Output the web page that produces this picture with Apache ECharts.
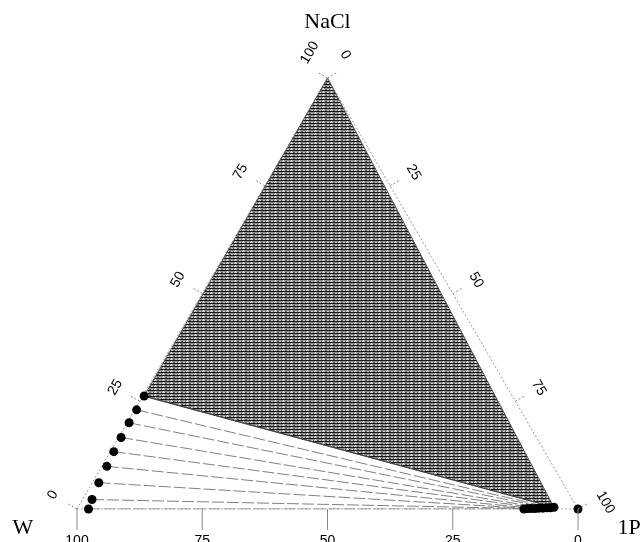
<!DOCTYPE html>
<html>
<head>
<meta charset="utf-8">
<script src="https://cdn.jsdelivr.net/npm/echarts@6/dist/echarts.min.js"></script>
<style>
  html, body { margin: 0; padding: 0; background: #fff; }
  #chart { width: 643px; height: 542px; }
</style>
</head>
<body>
<div id="chart"></div>
<script>
// tick values on the three sides (mass %)
const tickValues = [0, 25, 50, 75, 100];

// W-rich phase (mass % NaCl, mass % 1P)
const waterNaCl = [26.2, 23.0, 20.0, 16.6, 13.3, 9.9, 6.1, 2.2, 0.0];
const water1P = [0.3, 0.4, 0.4, 0.5, 0.7, 1.0, 1.3, 1.9, 2.3];
// 1P-rich phase (mass % NaCl, mass % 1P)
const organicNaCl = [0.4, 0.3, 0.3, 0.2, 0.2, 0.1, 0.1, 0.1, 0.0];
const organic1P = [95.0, 94.3, 93.6, 92.9, 92.1, 91.4, 90.6, 89.9, 89.2];
// pure 1P corner point
const pureNaCl = [0];
const pure1P = [100];

// ternary -> cartesian (x from W to 1P, y up to NaCl)
function tern(nacl, p) {
  return [(p + nacl / 2) / 100, nacl / 100];
}

const chart = echarts.init(document.getElementById('chart'));

// hatching for the three phase region
const pat = document.createElement('canvas');
pat.width = 8;
pat.height = 3;
const pctx = pat.getContext('2d');
pctx.fillStyle = '#c8c8c8';
pctx.fillRect(0, 0, 8, 3);
pctx.fillStyle = '#161616';
pctx.fillRect(0, 0, 8, 1);
pctx.fillStyle = '#8c8c8c';
pctx.fillRect(0, 1, 8, 1);
pctx.fillStyle = '#5a5a5a';
pctx.fillRect(1, 2, 1, 1);
pctx.fillRect(5, 2, 2, 1);
pctx.fillStyle = '#e6e6e6';
pctx.fillRect(3, 1, 1, 1);

const S3 = Math.sqrt(3) / 2;
const tickFont = '14px "Liberation Sans", Arial, sans-serif';
const nameFont = '22px "Liberation Serif", "Times New Roman", serif';

// one custom series per side
function sideSeries(side) {
  let data, normal, dir, rot, tickLen, dist, endShift;
  if (side === 'left') {
    data = tickValues.map(v => tern(v, 0).concat(v));
    normal = [-S3, -0.5]; dir = [0.5, -S3]; rot = Math.PI / 3;
    tickLen = 11; dist = 28; endShift = { 0: 0, 100: 13 };
  } else if (side === 'right') {
    data = tickValues.map(v => tern(100 - v, v).concat(v));
    normal = [S3, -0.5]; dir = [0.5, S3]; rot = -Math.PI / 3;
    tickLen = 12; dist = 27; endShift = { 0: -11, 100: 8 };
  } else {
    data = tickValues.map(v => tern(0, 100 - v).concat(v));
    normal = [0, 1]; dir = [1, 0]; rot = 0;
    tickLen = 21; dist = 32; endShift = {};
  }
  return {
    type: 'custom',
    silent: true,
    clip: false,
    z: 5,
    data: data,
    renderItem: function (params, api) {
      const p = api.coord([api.value(0), api.value(1)]);
      const v = api.value(2);
      const sh = endShift[v] || 0;
      return {
        type: 'group',
        children: [
          {
            type: 'line',
            shape: { x1: p[0], y1: p[1], x2: p[0] + normal[0] * tickLen, y2: p[1] + normal[1] * tickLen },
            style: { stroke: '#8a8a8a', lineWidth: 1, lineDash: side === 'bottom' ? null : [2, 2] }
          },
          {
            type: 'text',
            x: p[0] + normal[0] * dist + dir[0] * sh,
            y: p[1] + normal[1] * dist + dir[1] * sh,
            rotation: rot,
            style: {
              text: String(v),
              font: tickFont,
              fill: '#000',
              align: 'center',
              verticalAlign: 'middle'
            }
          }
        ]
      };
    }
  };
}

const series = [];

// triangle outline
series.push({
  type: 'line',
  silent: true,
  symbol: 'none',
  data: [tern(0, 0), tern(100, 0), tern(0, 100), tern(0, 0)],
  lineStyle: { color: '#999', width: 1, type: [2, 2] },
  z: 1
});

// three phase region: NaCl, saturated W phase, saturated 1P phase
series.push({
  type: 'custom',
  silent: true,
  clip: false,
  z: 2,
  data: [[0, 0]],
  renderItem: function (params, api) {
    const pts = [
      api.coord(tern(100, 0)),
      api.coord(tern(waterNaCl[0], water1P[0])),
      api.coord(tern(organicNaCl[0], organic1P[0]))
    ];
    return {
      type: 'polygon',
      shape: { points: pts },
      style: { fill: { image: pat, repeat: 'repeat' }, stroke: '#555', lineWidth: 1 }
    };
  }
});

// tie lines
for (let i = 0; i < waterNaCl.length; i++) {
  series.push({
    type: 'line',
    silent: true,
    symbol: 'none',
    z: 3,
    data: [tern(waterNaCl[i], water1P[i]), tern(organicNaCl[i], organic1P[i])],
    lineStyle: i === 0
      ? { color: '#444', width: 1.2, type: 'solid' }
      : { color: '#808080', width: 1, type: [12, 3] }
  });
}

// dots
const dotStyle = { color: '#000', opacity: 1 };
series.push({
  type: 'scatter', clip: false, symbolSize: 9, z: 4, itemStyle: dotStyle,
  data: waterNaCl.map((n, i) => tern(n, water1P[i]))
});
series.push({
  type: 'scatter', clip: false, symbolSize: 9, z: 4, itemStyle: dotStyle,
  data: organicNaCl.map((n, i) => tern(n, organic1P[i]))
});
series.push({
  type: 'scatter', clip: false, symbolSize: 9, z: 4, itemStyle: dotStyle,
  data: pureNaCl.map((n, i) => tern(n, pure1P[i]))
});

series.push(sideSeries('left'));
series.push(sideSeries('right'));
series.push(sideSeries('bottom'));

// corner names
const corners = [
  { name: 'NaCl', pt: tern(100, 0), dx: 0, dy: -56 },
  { name: 'W', pt: tern(0, 0), dx: -54, dy: 19 },
  { name: '1P', pt: tern(0, 100), dx: 51, dy: 19 }
];
series.push({
  type: 'custom',
  silent: true,
  clip: false,
  z: 6,
  data: corners.map(c => c.pt),
  renderItem: function (params, api) {
    const p = api.coord([api.value(0), api.value(1)]);
    const c = corners[params.dataIndex];
    return {
      type: 'text',
      x: p[0] + c.dx,
      y: p[1] + c.dy,
      style: { text: c.name, font: nameFont, fill: '#000', align: 'center', verticalAlign: 'middle' }
    };
  }
});

const option = {
  backgroundColor: '#fff',
  animation: false,
  grid: { left: 77, right: 65, top: 78, bottom: 33 },
  xAxis: { type: 'value', min: 0, max: 1, show: false },
  yAxis: { type: 'value', min: 0, max: 1, show: false },
  series: series
};
chart.setOption(option);
</script>
</body>
</html>
